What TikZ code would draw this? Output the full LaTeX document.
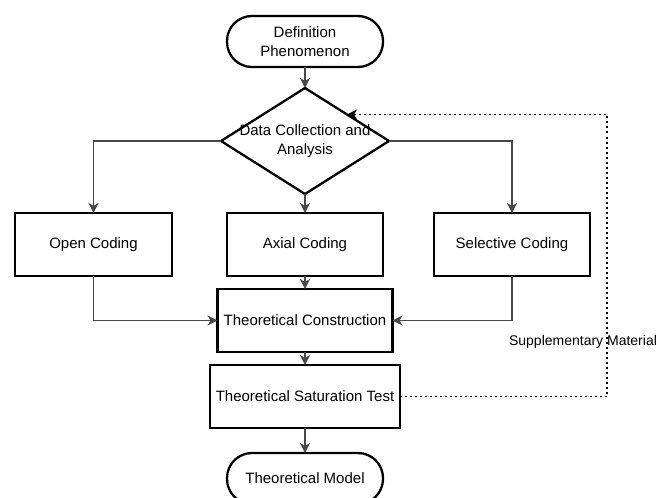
\documentclass[tikz,border=0pt]{standalone}
\usepackage{fontspec}
\setmainfont{Liberation Sans}
\usetikzlibrary{positioning,arrows.meta,shapes.geometric}

\begin{document}
\begin{tikzpicture}[>={Stealth[length=10pt,width=10pt,inset=3pt]},
  font=\fontsize{15}{18.5}\selectfont,
  terminal/.style={draw, line width=2.3pt, outer sep=0pt, rounded corners=25pt,
    minimum width=156pt, minimum height=51pt, align=center},
  process/.style={draw, line width=2.3pt, outer sep=0pt, minimum height=63pt,
    align=center},
  decision/.style={draw, line width=2.3pt, outer sep=0pt, diamond, inner sep=0pt,
    minimum width=168pt, minimum height=106pt},
  conn/.style={->, draw=black!72, line width=1.7pt},
  loopline/.style={->, line width=1.8pt, dash pattern=on 2pt off 3pt}]
  \useasboundingbox (0,0) rectangle (668pt,-497pt);
  \clip (0,0) rectangle (668pt,-497pt);

  \node (def) [terminal] at (305pt,-41.5pt) {Definition\\Phenomenon};
  \node (dca) [decision, below=21pt of def,
    label={[align=center]center:Data Collection and\\Analysis}] {};

  % three coding steps
  \node (axial) [process, minimum width=156pt, below=19pt of dca] {Axial Coding};
  \node (open)  [process, minimum width=157pt, left=55pt of axial] {Open Coding};
  \node (sel)   [process, minimum width=156pt, right=51pt of axial] {Selective Coding};

  \node (tc)  [process, minimum width=175pt, below=13pt of axial] {Theoretical Construction};
  \node (sts) [process, minimum width=190pt, below=13pt of tc] {Theoretical Saturation Test};
  \node (tm)  [terminal, below=25pt of sts] {Theoretical Model};

  \coordinate (loop) at (607pt,0pt);
  \node (suppl) [font=\fontsize{14}{17}\selectfont] at (583pt,-342pt) {Supplementary Material};

  \draw[conn] (def) -- (dca);
  \draw[conn] (dca.west) -| (open);
  \draw[conn] (dca.east) -| (sel);
  \draw[conn] (dca) -- (axial);
  \draw[conn] (axial) -- (tc);
  \draw[conn] (open) |- (tc);
  \draw[conn] (sel) |- (tc);
  \draw[conn] (tc) -- (sts);
  \draw[conn] (sts) -- (tm);
  % feedback loop
  \draw[loopline] (sts) -| (loop |- dca.north east) -- (dca.north east);
\end{tikzpicture}
\end{document}
